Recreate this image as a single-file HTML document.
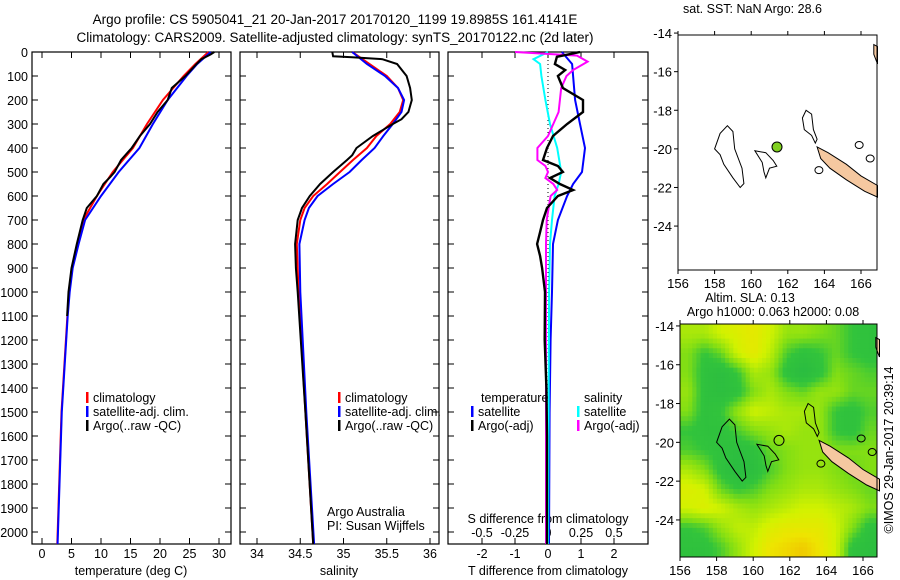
<!DOCTYPE html>
<html><head><meta charset="utf-8"><style>
body{margin:0;background:#fff}
svg{display:block;font-family:"Liberation Sans",sans-serif;font-size:12.5px}
</style></head><body>
<svg id="c" width="900" height="580" viewBox="0 0 900 580">
<text x="335" y="24" text-anchor="middle" font-size="13.5">Argo profile: CS 5905041_21 20-Jan-2017 20170120_1199 19.8985S 161.4141E</text>
<text x="335" y="42" text-anchor="middle" font-size="13.5">Climatology: CARS2009. Satellite-adjusted climatology: synTS_20170122.nc (2d later)</text>
<g id="g"></g>
</svg>
<script>
// ---- data ----
const depthTicks=[0,100,200,300,400,500,600,700,800,900,1000,1100,1200,1300,1400,1500,1600,1700,1800,1900,2000];
const tTicks=[0,5,10,15,20,25,30];
const sTicks=[34,34.5,35,35.5,36];
const dTTicks=[-2,-1,0,1,2];
const dSTicks=[-0.5,-0.25,0,0.25,0.5];
const tClimD=[0,50,100,200,300,400,500,600,700,800,900,1000,1100,1500,2050];
const tClimV=[28.2,26,24,20.5,17.8,15.4,12,9.3,7,6.1,5.1,4.6,4.3,3.3,2.6];
const tSatD=[0,50,100,200,300,400,500,600,700,800,900,1000,1100,1500,2050];
const tSatV=[28.6,26.3,24.5,21.3,18.8,16.5,13,10,7.3,6.2,5.2,4.7,4.35,3.35,2.65];
const tArgoD=[0,10,30,50,100,150,200,250,300,350,400,450,500,520,550,600,650,700,800,900,1000,1100];
const tArgoV=[29.2,28.6,27,26.2,24.3,22,21.3,19.6,18.3,16.6,15.2,13.4,12.3,11.6,10.4,9.3,7.6,6.9,5.9,5.0,4.5,4.25];
const sClimD=[0,50,100,150,200,250,300,350,400,450,500,550,600,650,700,800,1000,1500,2050];
const sClimV=[35.1,35.3,35.5,35.63,35.69,35.65,35.54,35.38,35.27,35.11,34.96,34.81,34.65,34.55,34.5,34.46,34.48,34.56,34.65];
const sSatD=[0,50,100,150,200,250,300,350,400,450,500,550,600,650,700,800,1000,1500,2050];
const sSatV=[35.1,35.27,35.48,35.63,35.7,35.67,35.57,35.46,35.36,35.21,35.07,34.88,34.7,34.6,34.55,34.49,34.5,34.57,34.66];
const sArgoD=[0,18,22,30,50,100,150,200,250,280,300,350,400,430,450,500,550,600,650,700,800,900,1000,1500,2050];
const sArgoV=[34.87,34.88,35.1,35.45,35.62,35.73,35.77,35.79,35.75,35.67,35.57,35.34,35.15,35.1,35.04,34.88,34.73,34.61,34.52,34.47,34.44,34.45,34.47,34.56,34.65];
const dTSatD=[0,50,100,200,300,400,500,550,600,700,800,1000,1200,1500,2050];
const dTSatV=[0.42,0.73,0.76,0.82,0.97,1.12,1.03,0.76,0.58,0.3,0.15,0.12,0.08,0.05,0.03];
const dTArgoD=[0,20,50,75,100,150,200,250,300,350,400,450,475,500,525,550,575,600,650,700,750,800,850,900,1000,1200,1400,1600,2050];
const dTArgoV=[0.97,0.27,0.21,0.52,0.3,0.45,1.06,1.06,0.58,0.15,-0.03,-0.15,0.3,0.45,0.06,0.36,0.76,0.3,-0.03,-0.15,-0.24,-0.33,-0.24,-0.18,-0.09,-0.1,-0.05,-0.03,-0.03];
const dSSatD=[0,30,50,100,200,300,400,500,550,600,700,800,1000,2050];
const dSSatV=[0,-0.11,-0.06,-0.05,-0.02,0.015,0.07,0.1,0.08,0.05,0.03,0.015,0.008,0];
const dSArgoD=[0,15,40,75,100,150,200,250,300,350,400,450,475,500,525,550,575,600,700,800,2050];
const dSArgoV=[-0.25,0.22,0.3,0.19,0.14,0.1,0.09,0.08,0.04,0,-0.08,-0.08,-0.02,0,-0.02,0.04,0.07,0.02,-0.01,-0.015,-0.015];
const slaGrid=[
[0.6,0.6,0.7,0.75,0.8,0.7,0.55,0.55,0.5,0.45,0.35,0.3],
[0.5,0.35,0.45,0.7,0.8,0.65,0.4,0.3,0.35,0.45,0.35,0.3],
[0.5,0.3,0.25,0.35,0.6,0.55,0.3,0.2,0.3,0.5,0.45,0.4],
[0.55,0.3,0.25,0.3,0.5,0.6,0.5,0.45,0.55,0.55,0.45,0.45],
[0.5,0.3,0.35,0.55,0.7,0.65,0.6,0.6,0.55,0.35,0.3,0.4],
[0.35,0.3,0.3,0.4,0.5,0.55,0.6,0.55,0.55,0.35,0.3,0.45],
[0.4,0.35,0.3,0.25,0.3,0.45,0.5,0.55,0.55,0.5,0.5,0.5],
[0.6,0.5,0.3,0.2,0.25,0.4,0.5,0.55,0.55,0.5,0.45,0.5],
[0.75,0.7,0.45,0.35,0.4,0.5,0.55,0.6,0.6,0.55,0.5,0.45],
[0.7,0.75,0.7,0.6,0.55,0.6,0.65,0.7,0.7,0.65,0.6,0.5],
[0.35,0.4,0.55,0.65,0.65,0.75,0.8,0.8,0.8,0.7,0.5,0.3],
[0.3,0.3,0.4,0.55,0.7,0.85,0.9,0.95,0.85,0.7,0.3,0.25]];
const lonTicks=[156,158,160,162,164,166];
const latTicks=[-14,-16,-18,-20,-22,-24];
const argoPos=[161.41,-19.9];
const island1=[[158.7,-18.8],[159.0,-19.1],[159.1,-20],[159.5,-21],[159.6,-21.8],[159.4,-22.0],[159.0,-21.5],[158.5,-20.8],[158.3,-20.3],[158.0,-20.0],[158.3,-19.2]];
const island2=[[160.2,-20.1],[160.8,-20.2],[161.2,-20.6],[161.4,-20.9],[161.0,-21],[160.8,-21.5],[160.7,-21.2],[160.6,-20.7]];
const island3=[[163,-18.0],[163.3,-18.2],[163.4,-19.0],[163.6,-19.5],[163.5,-19.7],[163.3,-19.3],[162.9,-19.0],[162.8,-18.4]];
const newCal=[[163.6,-19.9],[164.2,-20.2],[165.2,-20.8],[166.0,-21.4],[166.9,-21.9],[166.9,-22.5],[166.2,-22.2],[165.2,-21.6],[164.3,-21.0],[163.8,-20.5]];
const vanuatu=[[166.7,-14.6],[166.9,-14.7],[166.9,-15.6],[166.7,-15.1]];

const NS='http://www.w3.org/2000/svg';
const G=document.getElementById('g');
function el(t,a,p){const e=document.createElementNS(NS,t);for(const k in a)e.setAttribute(k,a[k]);(p||G).appendChild(e);return e;}
const yD=d=>52+d*0.24;
function panel(x0,x1,name){
  const r=el('rect',{x:x0,y:52,width:x1-x0,height:492,fill:'none',stroke:'#000','stroke-width':1.2});
  
  
  depthTicks.forEach(d=>{el('line',{x1:x0,x2:x0+6,y1:yD(d),y2:yD(d),stroke:'#000'});el('line',{x1:x1-6,x2:x1,y1:yD(d),y2:yD(d),stroke:'#000'});});
}
function line(D,V,sx,col,name,w){
  const p=el('polyline',{points:D.map((d,i)=>sx(V[i]).toFixed(1)+','+yD(d).toFixed(1)).join(' '),fill:'none',stroke:col,'stroke-width':w||2});
  
  
}
function txt(x,y,s,name,anchor,extra){
  const t=el('text',Object.assign({x:x,y:y,'text-anchor':anchor||'start'},extra||{}));t.textContent=s;
  
  
  return t;
}
function xticks(sx,ticks,x0,x1,ylab,name,fmt){
  ticks.forEach(v=>{const x=sx(v);el('line',{x1:x,x2:x,y1:52,y2:58,stroke:'#000'});el('line',{x1:x,x2:x,y1:538,y2:544,stroke:'#000'});
    if(ylab)txt(x,ylab,fmt?fmt(v):String(v),name,'middle');});
}
// panel 1
const sxT=v=>42+v*5.9;
panel(32,231,'temperature-panel');
depthTicks.forEach(d=>txt(28,yD(d)+5,String(d),'depth-tick-label','end'));
xticks(sxT,tTicks,32,231,558,'temperature-tick-label');
txt(131,575,'temperature (deg C)','temperature-axis-title','middle');
line(tClimD,tClimV,sxT,'#f00','temperature-climatology-line');
line(tSatD,tSatV,sxT,'#00f','temperature-satellite-line');
line(tArgoD,tArgoV,sxT,'#000','temperature-argo-line');
// panel 2
const sxS=v=>257+(v-34)*86.5;
panel(240,439,'salinity-panel');
xticks(sxS,sTicks,240,439,558,'salinity-tick-label');
txt(339,575,'salinity','salinity-axis-title','middle');
line(sClimD,sClimV,sxS,'#f00','salinity-climatology-line');
line(sSatD,sSatV,sxS,'#00f','salinity-satellite-line');
line(sArgoD,sArgoV,sxS,'#000','salinity-argo-line');
txt(327,516,'Argo Australia','credit-argo-australia');
txt(327,530,'PI: Susan Wijffels','credit-pi');
// panel 3
const sxDT=v=>548+v*33, sxDS=v=>548+v*132;
panel(448,648,'difference-panel');
xticks(sxDT,dTTicks,448,648,558,'t-diff-tick-label');
dSTicks.forEach(v=>txt(sxDS(v),537,String(v),'s-diff-tick-label','middle'));
txt(548,523,'S difference from climatology','s-diff-axis-title','middle');
txt(548,575,'T difference from climatology','t-diff-axis-title','middle');
for(let y=52;y<544;y+=4)el('rect',{x:547.5,y:y,width:1,height:1,fill:'#000'});
line(dTSatD,dTSatV,sxDT,'#00f','t-diff-satellite-line');
line(dSSatD,dSSatV,sxDS,'#0ff','s-diff-satellite-line');
line(dSArgoD,dSArgoV,sxDS,'#f0f','s-diff-argo-line');
line(dTArgoD,dTArgoV,sxDT,'#000','t-diff-argo-line',2.4);
// legends
function leg(x,y,col,s,name){el('rect',{x:x,y:y-10,width:2.5,height:11,fill:col});txt(x+7,y,s,name);}
leg(86,402,'#f00','climatology','legend-climatology');
leg(86,416,'#00f','satellite-adj. clim.','legend-satellite-adj');
leg(86,430,'#000','Argo(..raw -QC)','legend-argo');
leg(338,402,'#f00','climatology','legend-climatology-2');
leg(338,416,'#00f','satellite-adj. clim.','legend-satellite-adj-2');
leg(338,430,'#000','Argo(..raw -QC)','legend-argo-2');
txt(481,402,'temperature','legend-temperature-header');
txt(584,402,'salinity','legend-salinity-header');
leg(471,416,'#00f','satellite','legend-t-satellite');
leg(471,430,'#000','Argo(-adj)','legend-t-argo');
leg(577,416,'#0ff','satellite','legend-s-satellite');
leg(577,430,'#f0f','Argo(-adj)','legend-s-argo');
// maps
function map(x0,y0,x1,y1,lat0,py,name,heat){
  const mx=l=>x0+(l-156)*18.3, my=a=>y0+(lat0-a)*py;
  if(heat){
    const stops=[[0,[31,176,70]],[0.35,[50,196,60]],[0.5,[130,222,20]],[0.7,[210,242,0]],[0.85,[238,228,0]],[1,[240,190,0]]];
    const col=v=>{for(let i=1;i<stops.length;i++)if(v<=stops[i][0]){const a=stops[i-1],b=stops[i],t=(v-a[0])/(b[0]-a[0]);return 'rgb('+a[1].map((c,k)=>Math.round(c+(b[1][k]-c)*t)).join(',')+')';}return 'rgb(240,190,0)';};
    const R=slaGrid.length,C=slaGrid[0].length,sub=4;
    const cw=(x1-x0)/(C*sub),ch=(y1-y0)/(R*sub);
    const samp=(r,c)=>{r=Math.max(0,Math.min(R-1,r));c=Math.max(0,Math.min(C-1,c));
      const r0=Math.floor(r),c0=Math.floor(c),r1=Math.min(R-1,r0+1),c1=Math.min(C-1,c0+1),fr=r-r0,fc=c-c0;
      return slaGrid[r0][c0]*(1-fr)*(1-fc)+slaGrid[r0][c1]*(1-fr)*fc+slaGrid[r1][c0]*fr*(1-fc)+slaGrid[r1][c1]*fr*fc;};
    for(let i=0;i<R*sub;i++)for(let j=0;j<C*sub;j++){
      const v=samp((i+0.5)/sub-0.5,(j+0.5)/sub-0.5);
      const e=el('rect',{x:(x0+j*cw).toFixed(2),y:(y0+i*ch).toFixed(2),width:(cw+0.4).toFixed(2),height:(ch+0.4).toFixed(2),fill:col(v)});
      
      
    }
  }
  const pts=a=>a.map(p=>mx(p[0]).toFixed(1)+','+my(p[1]).toFixed(1)).join(' ');
  [island1,island2,island3].forEach(a=>{const e=el('polygon',{points:pts(a),fill:'none',stroke:'#000','stroke-width':1});
    
    });
  [[163.7,-21.1],[165.9,-19.8],[166.5,-20.5]].forEach(p=>el('ellipse',{cx:mx(p[0]),cy:my(p[1]),rx:4,ry:3.5,fill:'none',stroke:'#000'}));
  [newCal,vanuatu].forEach(a=>{const e=el('polygon',{points:pts(a),fill:'#f5c8a0',stroke:'#000','stroke-width':1});
    
    });
  const ac=el('circle',{cx:mx(argoPos[0]),cy:my(argoPos[1]),r:5,fill:heat?'none':'#80d020',stroke:'#000'});
  
  
  const fr=el('rect',{x:x0,y:y0,width:x1-x0,height:y1-y0,fill:'none',stroke:'#000'});
  
  
  lonTicks.forEach(l=>{const x=mx(l);el('line',{x1:x,x2:x,y1:y0-4,y2:y0,stroke:'#000'});el('line',{x1:x,x2:x,y1:y1,y2:y1+4,stroke:'#000'});txt(x,y1+18,String(l),'lon-tick-label','middle',{'font-size':13});});
  latTicks.forEach(a=>{const y=my(a);el('line',{x1:x0-4,x2:x0,y1:y,y2:y,stroke:'#000'});txt(x0-6,y+5,String(a),'lat-tick-label','end',{'font-size':13});});
}
map(678,35,877,270,-14.1,19.3,'sst-map',false);
map(680,324,877,557,-13.9,19.4,'sla-map',true);
txt(683,13,'sat. SST: NaN Argo: 28.6','sst-map-title');
txt(750,302,'Altim. SLA: 0.13','sla-map-title','middle');
txt(773,316,'Argo h1000: 0.063 h2000: 0.08','sla-map-subtitle','middle');
txt(0,0,'©IMOS 29-Jan-2017 20:39:14','imos-stamp','middle',{transform:'translate(893,450) rotate(-90)'});
</script>
</body></html>
